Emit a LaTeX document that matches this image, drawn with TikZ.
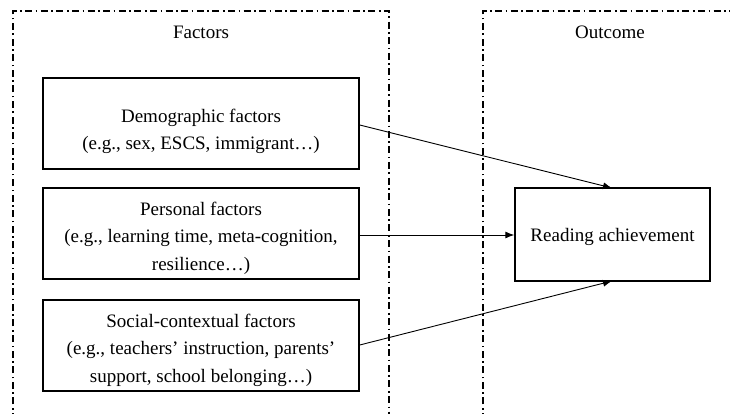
\documentclass[tikz,border=0pt]{standalone}
\usepackage{fontspec}
\setmainfont{Liberation Serif}
\usetikzlibrary{arrows.meta,calc}
\begin{document}
\begin{tikzpicture}[x=1pt,y=-1pt,
  frame/.style={line width=1.2pt, dash pattern=on 7pt off 3.5pt on 1.6pt off 3.5pt},
  factorbox/.style={draw, line width=1.4pt, minimum width=316pt, minimum height=91pt, inner sep=0pt},
  outbox/.style={draw, line width=1.4pt, minimum width=195pt, minimum height=93pt, inner sep=0pt},
  boxtext/.style={align=center, font=\fontsize{19}{27.5}\selectfont, inner sep=0pt},
  title/.style={font=\fontsize{19}{22}\selectfont},
  link/.style={line width=0.9pt, -{Latex[length=9pt,width=7pt]}}]
\useasboundingbox (0,0) rectangle (730,414);
\draw[frame] (13,420) -- (13,11) -- (389,11) -- (389,420);
\draw[frame] (483,420) -- (483,11) -- (740,11);
\node[title] (ft) at (201,32) {Factors};
\node[title] (ot) at (610,32) {Outcome};
\node[factorbox] (demo) at (201,123.5) {};
\node[boxtext] (demotext) at ($(demo.center)+(0,8)$) {Demographic factors\\(e.g., sex, ESCS, immigrant…)};
\node[factorbox] (pers) at (201,233.5) {};
\node[boxtext] (perstext) at ($(pers.center)+(0,4.5)$) {Personal factors\\(e.g., learning time, meta-cognition,\\resilience…)};
\node[factorbox] (soc) at (201,345.5) {};
\node[boxtext] (soctext) at ($(soc.center)+(0,4.5)$) {Social-contextual factors\\(e.g., teachers’ instruction, parents’\\support, school belonging…)};
\node[outbox] (read) at (612.5,234.5) {};
\node[boxtext] (readtext) at ($(read.center)+(0,2)$) {Reading achievement};
\coordinate (rt) at (612,188);
\coordinate (rb) at (612,281);
\draw[link] (demo.east |- 0,125) -- (rt);
\draw[link] (pers.east |- 0,235) -- (read.west |- 0,235);
\draw[link] (soc.east |- 0,345) -- (rb);
\end{tikzpicture}
\end{document}
